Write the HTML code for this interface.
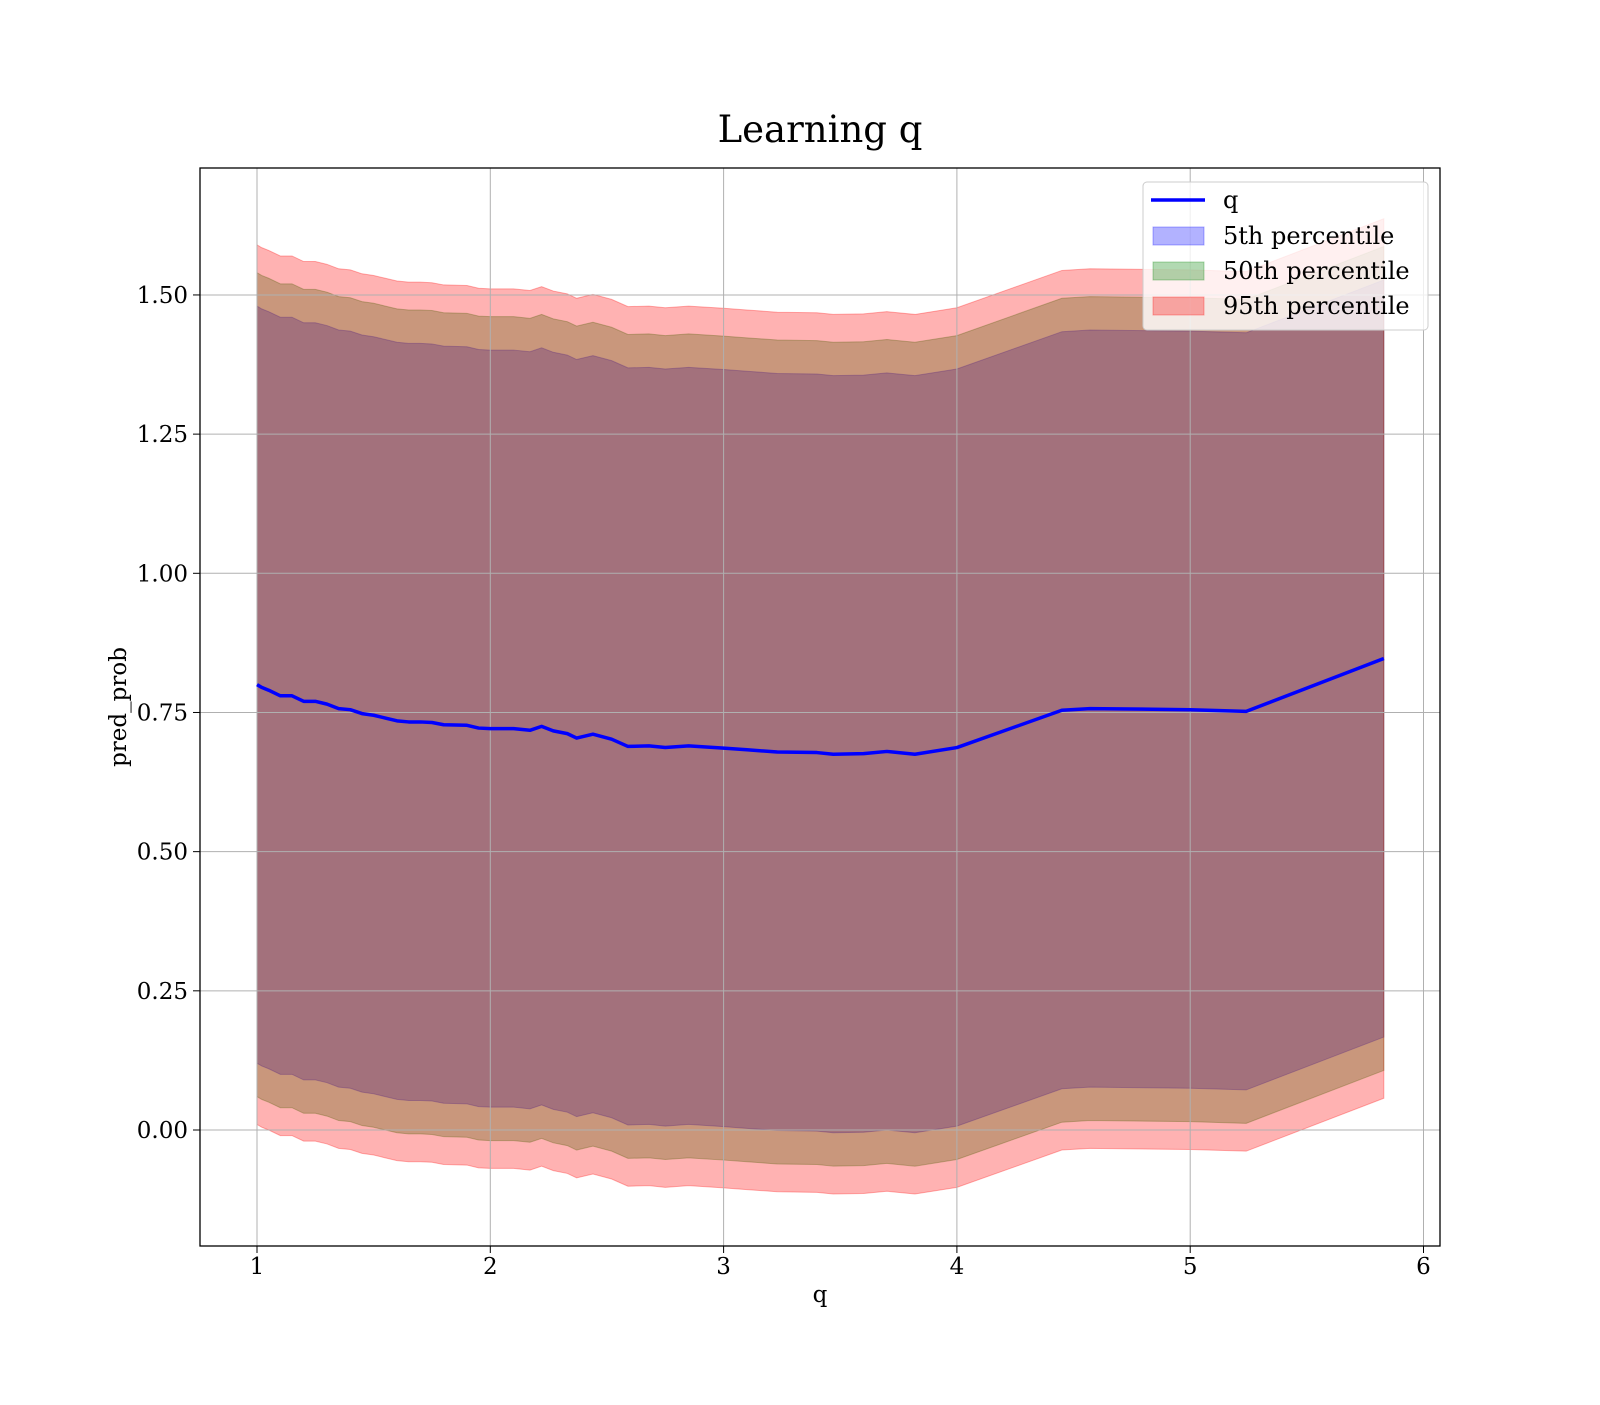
<!DOCTYPE html>
<html><head><meta charset="utf-8"><style>
body{margin:0;background:#fff}
svg text{font-family:"DejaVu Serif","Liberation Serif",serif;fill:#000}
</style></head><body>
<svg id="chart" width="1600" height="1400" viewBox="0 0 1600 1400" xmlns="http://www.w3.org/2000/svg">
<rect width="1600" height="1400" fill="#fff"/>
<text x="820" y="142" font-size="37" text-anchor="middle">Learning q</text>
<g id="bands"></g>
<g id="grid"></g>
<g id="series"></g>
<rect x="200" y="168" width="1240" height="1078" fill="none" stroke="#000" stroke-width="1.3"/>
<g id="ticks"></g>
<text x="820" y="1302" font-size="23" text-anchor="middle">q</text>
<text transform="translate(126,707) rotate(-90)" font-size="23" text-anchor="middle">pred_prob</text>
<g>
<rect x="1143" y="182" width="285" height="148" rx="4" fill="#fff" fill-opacity="0.8" stroke="#ccc"/>
<line x1="1151" y1="200" x2="1205" y2="200" stroke="#0000ff" stroke-width="3.5"/>
<text x="1223" y="208" font-size="24">q</text>
<rect x="1153" y="227" width="51" height="18" fill="#0000ff" fill-opacity="0.3" stroke="#0000ff" stroke-opacity="0.3"/>
<text x="1223" y="244" font-size="24">5th percentile</text>
<rect x="1153" y="262" width="51" height="18" fill="#008000" fill-opacity="0.3" stroke="#008000" stroke-opacity="0.3"/>
<text x="1223" y="279" font-size="24">50th percentile</text>
<rect x="1153" y="297" width="51" height="18" fill="#ff0000" fill-opacity="0.3" stroke="#ff0000" stroke-opacity="0.3"/>
<text x="1223" y="314" font-size="24">95th percentile</text>
</g>
</svg>
<script>
const qValues=[1.0,1.02,1.05,1.1,1.15,1.2,1.25,1.3,1.35,1.4,1.45,1.5,1.55,1.6,1.65,1.7,1.75,1.8,1.9,1.95,2.0,2.1,2.17,2.22,2.27,2.33,2.37,2.44,2.52,2.59,2.68,2.75,2.85,3.0,3.1,3.23,3.4,3.47,3.6,3.7,3.82,4.0,4.45,4.57,5.0,5.24,5.83];
const meanValues=[0.80,0.795,0.79,0.78,0.78,0.77,0.77,0.765,0.757,0.755,0.748,0.745,0.74,0.735,0.733,0.733,0.732,0.728,0.727,0.722,0.721,0.721,0.718,0.725,0.717,0.712,0.704,0.711,0.702,0.689,0.69,0.687,0.69,0.686,0.683,0.679,0.678,0.675,0.676,0.680,0.675,0.687,0.754,0.757,0.755,0.752,0.847];
const bandHalfWidths=[0.68,0.74,0.79];
const bandColors=["#0000ff","#008000","#ff0000"];
const xTicks=[1,2,3,4,5,6];
const yTicks=[0,0.25,0.5,0.75,1.0,1.25,1.5];
const yTickLabels=["0.00","0.25","0.50","0.75","1.00","1.25","1.50"];
const NS="http://www.w3.org/2000/svg";
const xs=v=>257+(v-1)*233.3;
const ys=v=>1130-v*556.7;
function mk(tag,attrs,parent){const e=document.createElementNS(NS,tag);for(const k in attrs)e.setAttribute(k,attrs[k]);parent.appendChild(e);return e;}
const grid=document.getElementById('grid'),ticks=document.getElementById('ticks'),bands=document.getElementById('bands'),series=document.getElementById('series');
xTicks.forEach(t=>{
  const g=mk('line',{x1:xs(t),x2:xs(t),y1:168,y2:1246,stroke:'#b0b0b0','stroke-width':1},grid);
  
  mk('line',{x1:xs(t),x2:xs(t),y1:1246,y2:1253,stroke:'#000'},ticks);
  const tx=mk('text',{x:xs(t),y:1274,'font-size':23,'text-anchor':'middle'},ticks);
  tx.textContent=t;
});
yTicks.forEach((t,i)=>{
  const g=mk('line',{x1:200,x2:1440,y1:ys(t),y2:ys(t),stroke:'#b0b0b0','stroke-width':1},grid);
  
  mk('line',{x1:193,x2:200,y1:ys(t),y2:ys(t),stroke:'#000'},ticks);
  const tx=mk('text',{x:188,y:ys(t)+8,'font-size':23,'text-anchor':'end'},ticks);
  tx.textContent=yTickLabels[i];
});
const names=['band-5th-percentile','band-50th-percentile','band-95th-percentile'];
bandHalfWidths.forEach((w,b)=>{
  let d='';
  qValues.forEach((q,i)=>{d+=(i?'L':'M')+xs(q)+','+ys(meanValues[i]+w);});
  for(let i=qValues.length-1;i>=0;i--)d+='L'+xs(qValues[i])+','+ys(meanValues[i]-w);
  d+='Z';
  const p=mk('path',{d:d,fill:bandColors[b],'fill-opacity':0.3,stroke:bandColors[b],'stroke-opacity':0.3},bands);
  
});
const pts=qValues.map((q,i)=>xs(q)+','+ys(meanValues[i])).join(' ');
const ln=mk('polyline',{points:pts,fill:'none',stroke:'#0000ff','stroke-width':3.5,'stroke-linejoin':'round'},series);

</script>
</body></html>
